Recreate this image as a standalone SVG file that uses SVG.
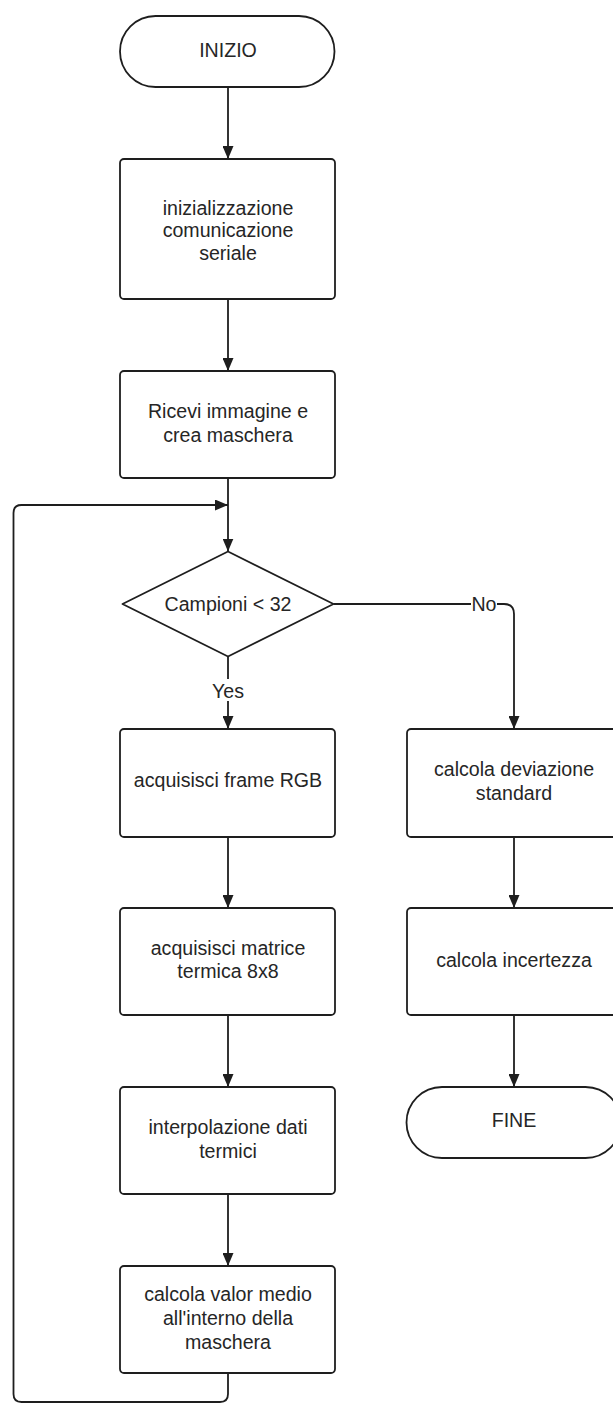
<svg xmlns="http://www.w3.org/2000/svg" width="613" height="1405" viewBox="0 0 613 1405">
  <style>
    .node { fill: #ffffff; stroke: #1e1e1e; stroke-width: 1.8; }
    .lbl { font-family: "Liberation Sans", Arial, sans-serif; font-size: 19.6px; fill: #262626; text-anchor: middle; }
    .edge { fill: none; stroke: #1e1e1e; stroke-width: 1.8; }
    .bg { fill: #ffffff; stroke: none; }
  </style>
  <defs>
    <marker id="arrow" viewBox="0 0 13 11" refX="13" refY="5.5" markerWidth="13" markerHeight="11" markerUnits="userSpaceOnUse" orient="auto">
      <path d="M0,0 L13,5.5 L0,11 Z" fill="#1e1e1e"/>
    </marker>
  </defs>
  <rect width="613" height="1405" fill="#ffffff"/>

  <g id="connectors">
    <path class="edge" d="M228,87 L228,159" marker-end="url(#arrow)"/>
    <path class="edge" d="M228,299 L228,371" marker-end="url(#arrow)"/>
    <path class="edge" d="M228,478 L228,551.5" marker-end="url(#arrow)"/>
    <path class="edge" d="M228,656.5 L228,729" marker-end="url(#arrow)"/>
    <path class="edge" d="M228,837 L228,908" marker-end="url(#arrow)"/>
    <path class="edge" d="M228,1015 L228,1087" marker-end="url(#arrow)"/>
    <path class="edge" d="M228,1194 L228,1266" marker-end="url(#arrow)"/>
    <path class="edge" d="M228,1373 L228,1394 Q228,1402 220,1402 L21.5,1402 Q13.5,1402 13.5,1394 L13.5,513 Q13.5,505 21.5,505 L228,505" marker-end="url(#arrow)"/>
    <path class="edge" d="M333.5,604 L504,604 Q514,604 514,614 L514,729" marker-end="url(#arrow)"/>
    <path class="edge" d="M514,837 L514,908" marker-end="url(#arrow)"/>
    <path class="edge" d="M514,1015 L514,1087" marker-end="url(#arrow)"/>
    <rect class="bg" x="210" y="679" width="36" height="22"/>
    <text class="lbl" x="228" y="697.5">Yes</text>
    <rect class="bg" x="471" y="594" width="26" height="20"/>
    <text class="lbl" x="484" y="610.5">No</text>
  </g>

  <g id="inizio">
    <rect class="node" x="120" y="16" width="214.5" height="71" rx="35.5" ry="35.5"/>
    <text class="lbl" x="228" y="57">INIZIO</text>
  </g>

  <g id="init-seriale">
    <rect class="node" x="120" y="159" width="215" height="140" rx="4"/>
    <text class="lbl" x="228" y="214.5">inizializzazione</text>
    <text class="lbl" x="228" y="237">comunicazione</text>
    <text class="lbl" x="228" y="259.5">seriale</text>
  </g>

  <g id="ricevi">
    <rect class="node" x="120" y="371" width="215" height="107" rx="4"/>
    <text class="lbl" x="228" y="418">Ricevi immagine e</text>
    <text class="lbl" x="228" y="441.5">crea maschera</text>
  </g>

  <g id="decisione">
    <path class="node" d="M228,551.5 L333.5,604 L228,656.5 L122.5,604 Z" stroke-linejoin="round"/>
    <text class="lbl" x="228" y="610.5">Campioni &lt; 32</text>
  </g>

  <g id="frame-rgb">
    <rect class="node" x="120" y="729" width="215" height="108" rx="4"/>
    <text class="lbl" x="228" y="786.5">acquisisci frame RGB</text>
  </g>

  <g id="matrice">
    <rect class="node" x="120" y="908" width="215" height="107" rx="4"/>
    <text class="lbl" x="228" y="954.5">acquisisci matrice</text>
    <text class="lbl" x="228" y="978">termica 8x8</text>
  </g>

  <g id="interpolazione">
    <rect class="node" x="120" y="1087" width="215" height="107" rx="4"/>
    <text class="lbl" x="228" y="1133.5">interpolazione dati</text>
    <text class="lbl" x="228" y="1157.5">termici</text>
  </g>

  <g id="valor-medio">
    <rect class="node" x="120" y="1266" width="215" height="107" rx="4"/>
    <text class="lbl" x="228" y="1300.5">calcola valor medio</text>
    <text class="lbl" x="228" y="1324.5">all'interno della</text>
    <text class="lbl" x="228" y="1348.5">maschera</text>
  </g>

  <g id="deviazione">
    <rect class="node" x="407" y="729" width="214" height="108" rx="4"/>
    <text class="lbl" x="514" y="775.5">calcola deviazione</text>
    <text class="lbl" x="514" y="799.5">standard</text>
  </g>

  <g id="incertezza">
    <rect class="node" x="407" y="908" width="214" height="107" rx="4"/>
    <text class="lbl" x="514" y="966.5">calcola incertezza</text>
  </g>

  <g id="fine">
    <rect class="node" x="406.5" y="1087" width="214.5" height="71" rx="35.5" ry="35.5"/>
    <text class="lbl" x="514" y="1126.5">FINE</text>
  </g>
</svg>
